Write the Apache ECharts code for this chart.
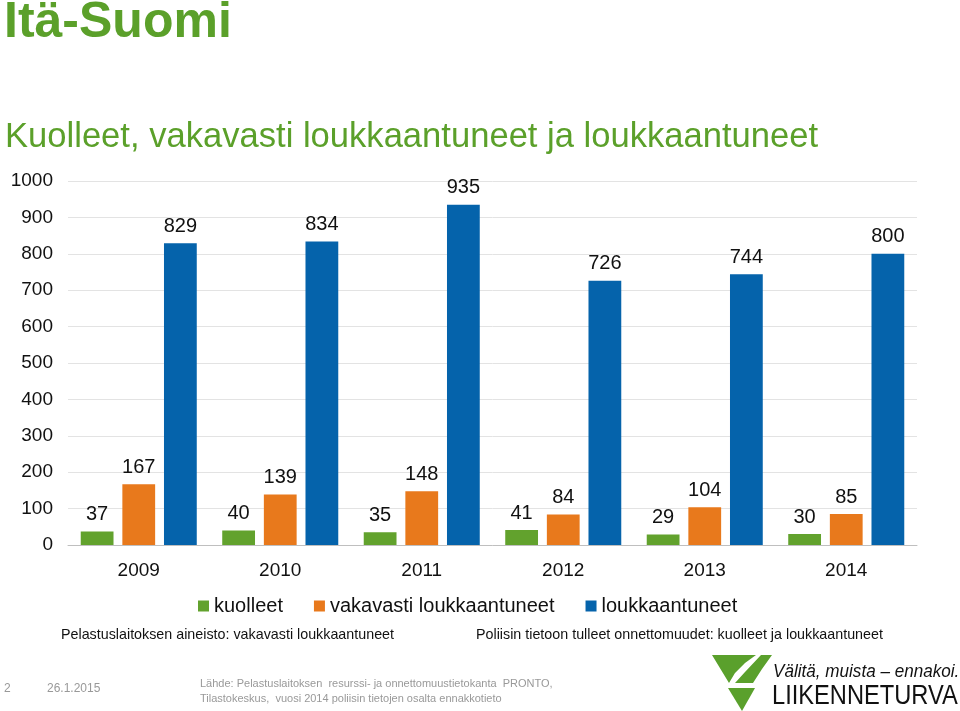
<!DOCTYPE html>
<html>
<head>
<meta charset="utf-8" />
<title>Itä-Suomi</title>
<script src="https://cdn.jsdelivr.net/npm/echarts@6/dist/echarts.min.js"></script>
<style>
  html, body { margin: 0; padding: 0; background: #fff; }
  #main { width: 960px; height: 711px; }
</style>
</head>
<body>
<div id="main"></div>
<script>
var vuodet = ['2009', '2010', '2011', '2012', '2013', '2014'];
var kuolleet = [37, 40, 35, 41, 29, 30];
var vakavasti = [167, 139, 148, 84, 104, 85];
var loukkaantuneet = [829, 834, 935, 726, 744, 800];
var sarjat = ['kuolleet', 'vakavasti loukkaantuneet', 'loukkaantuneet'];
var varit = ['#62a22d', '#e8791c', '#0563ab'];

var FONT = 'Liberation Sans, Arial, sans-serif';
var GREEN = '#5ba02a';
var LOGO = '#5aa02c';

var chart = echarts.init(document.getElementById('main'));

function sarja(nimi, data, vari) {
  return {
    name: nimi,
    type: 'bar',
    data: data,
    barGap: '27%',
    barCategoryGap: '18%',
    itemStyle: { color: vari },
    label: {
      show: true,
      position: 'top',
      distance: 7,
      color: '#111',
      fontSize: 20,
      fontFamily: FONT
    }
  };
}

chart.setOption({
  animation: false,
  textStyle: { fontFamily: FONT },
  grid: { left: 68, right: 43, top: 181, bottom: 166 },
  legend: {
    data: sarjat,
    top: 591,
    left: 193,
    itemWidth: 11,
    itemHeight: 11,
    itemGap: 31,
    icon: 'rect',
    textStyle: { fontSize: 20, color: '#111', fontFamily: FONT }
  },
  xAxis: {
    type: 'category',
    data: vuodet,
    axisTick: { show: false },
    axisLine: { lineStyle: { color: '#bfbfbf', width: 1 } },
    axisLabel: { color: '#111', fontSize: 19, margin: 16 }
  },
  yAxis: {
    type: 'value',
    min: 0,
    max: 1000,
    interval: 100,
    axisLine: { show: false },
    axisTick: { show: false },
    splitLine: { lineStyle: { color: '#e3e3e3' } },
    axisLabel: {
      color: '#111',
      fontSize: 19,
      margin: 15,
      formatter: function (v) { return String(v); }
    }
  },
  series: [
    sarja(sarjat[0], kuolleet, varit[0]),
    sarja(sarjat[1], vakavasti, varit[1]),
    sarja(sarjat[2], loukkaantuneet, varit[2])
  ],
  graphic: [
    { type: 'text', left: 4, top: -2, style: { text: 'Itä-Suomi', fill: GREEN, font: 'bold 50px ' + FONT } },
    { type: 'text', left: 5, top: 120, style: { text: 'Kuolleet, vakavasti loukkaantuneet ja loukkaantuneet', fill: GREEN, font: '34.6px ' + FONT } },
    { type: 'text', left: 61, top: 628, style: { text: 'Pelastuslaitoksen aineisto: vakavasti loukkaantuneet', fill: '#111', font: '14.3px ' + FONT } },
    { type: 'text', left: 476, top: 628, style: { text: 'Poliisin tietoon tulleet onnettomuudet: kuolleet ja loukkaantuneet', fill: '#111', font: '14.3px ' + FONT } },
    { type: 'text', left: 4, top: 683, style: { text: '2', fill: '#999', font: '12px ' + FONT } },
    { type: 'text', left: 47, top: 683, style: { text: '26.1.2015', fill: '#999', font: '12px ' + FONT } },
    { type: 'text', left: 200, top: 676, style: { text: 'Lähde: Pelastuslaitoksen  resurssi- ja onnettomuustietokanta  PRONTO,\nTilastokeskus,  vuosi 2014 poliisin tietojen osalta ennakkotieto', fill: '#999', font: '11px ' + FONT, lineHeight: 15 } },
    // logo
    { type: 'polygon', shape: { points: [[712, 655], [756, 655], [745, 663], [735, 673], [729, 683]] }, style: { fill: LOGO } },
    { type: 'polygon', shape: { points: [[761, 655], [772, 655], [762, 669], [753, 683], [735, 683], [745, 672]] }, style: { fill: LOGO } },
    { type: 'polygon', shape: { points: [[728, 688], [755, 688], [742, 711]] }, style: { fill: LOGO } },
    { type: 'text', x: 773, y: 663, scaleX: 0.95, style: { text: 'Välitä, muista – ennakoi.', fill: '#111', font: 'italic 18px ' + FONT } },
    { type: 'text', x: 772, y: 682, scaleX: 0.845, style: { text: 'LIIKENNETURVA', fill: '#111', font: '28px ' + FONT } }
  ]
});

window.onresize = function () {
  chart.resize();
};
</script>
</body>
</html>
